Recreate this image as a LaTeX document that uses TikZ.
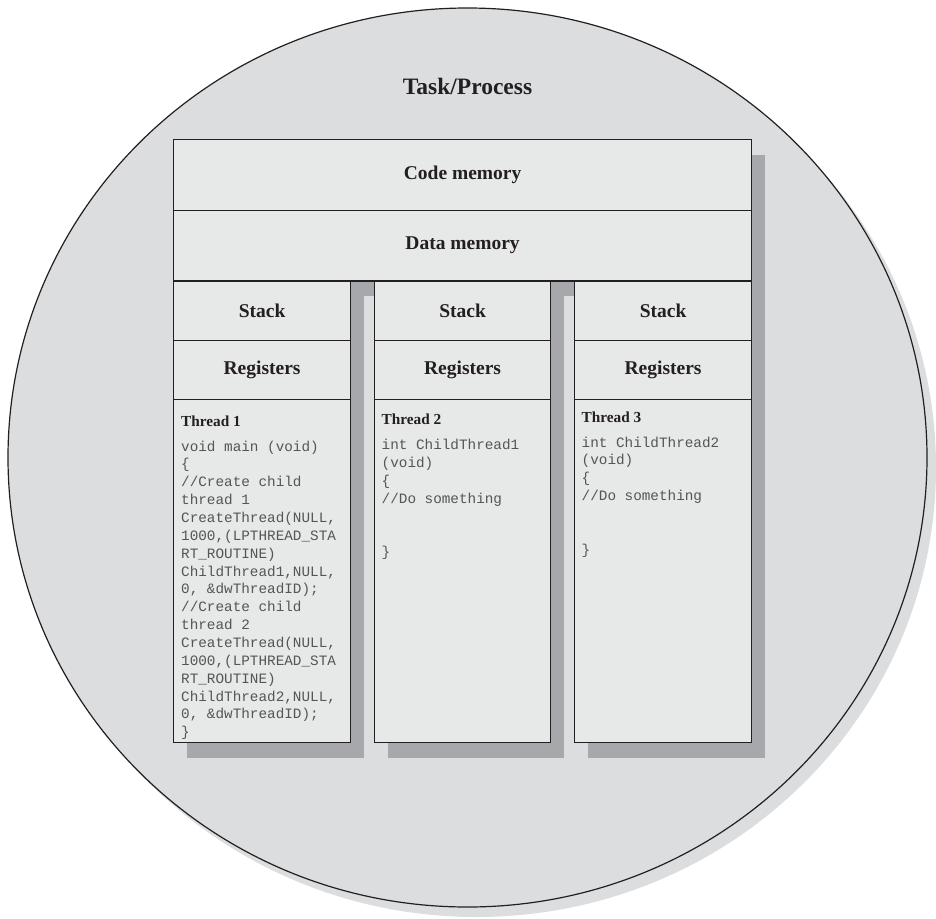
\documentclass[tikz,border=0pt]{standalone}
\usepackage{fontspec}
\setmainfont{Liberation Serif}
\setmonofont{Liberation Mono}
\definecolor{circfill}{HTML}{DCDDDF}
\definecolor{boxfill}{HTML}{E7E8E8}
\definecolor{shade}{HTML}{A7A8AB}
\definecolor{ink}{HTML}{231F20}
\definecolor{codeink}{HTML}{555555}
\begin{document}
\begin{tikzpicture}[x=1pt,y=-1pt,
  membox/.style={draw=ink, line width=1.2pt, fill=boxfill, inner sep=0pt, anchor=north west, text=ink,
    font=\fontsize{19.5}{22}\selectfont\bfseries},
  shadowfill/.style={fill=shade, draw=none},
  tlabel/.style={anchor=base west, inner sep=0pt, text=ink, font=\fontsize{15.3}{18}\selectfont\bfseries},
  codetext/.style={anchor=north west, inner sep=0pt, align=left, text=codeink,
    font=\ttfamily\fontsize{14.33}{17.86}\selectfont}]
\useasboundingbox (0,0) rectangle (936,918);
% process circle with its shadow
\fill[circfill] (476.5,467.5) ellipse [x radius=459.5pt, y radius=449.5pt];
\draw[fill=circfill, draw=ink, line width=1.2pt] (467.5,457.5) ellipse [x radius=459.5pt, y radius=449.5pt];
\node[text=ink, font=\fontsize{23.5}{28}\selectfont\bfseries] (title) at (467.5,86) {Task/Process};
% box shadows
\fill[shadowfill] (187,155) rectangle (765,296.4);
\fill[shadowfill] (187,296) rectangle (364,757.8);
\fill[shadowfill] (388,296) rectangle (564,757.8);
\fill[shadowfill] (588,296) rectangle (765,757.8);
% shared memory
\node[membox, minimum width=578pt, minimum height=70.6pt] (code) at (173,139) {Code memory};
\node[membox, minimum width=578pt, minimum height=70.8pt] (data) at (173,209.6) {Data memory};
% thread columns
\node[membox, minimum width=177pt, minimum height=59.2pt] (s1) at (173,280.4) {Stack};
\node[membox, minimum width=176pt, minimum height=59.2pt] (s2) at (374,280.4) {Stack};
\node[membox, minimum width=177pt, minimum height=59.2pt] (s3) at (574,280.4) {Stack};
\node[membox, minimum width=177pt, minimum height=59.1pt] (r1) at (173,339.6) {Registers};
\node[membox, minimum width=176pt, minimum height=59.1pt] (r2) at (374,339.6) {Registers};
\node[membox, minimum width=177pt, minimum height=59.1pt] (r3) at (574,339.6) {Registers};
\node[membox, minimum width=177pt, minimum height=343.1pt] (t1) at (173,398.7) {};
\node[membox, minimum width=176pt, minimum height=343.1pt] (t2) at (374,398.7) {};
\node[membox, minimum width=177pt, minimum height=343.1pt] (t3) at (574,398.7) {};
% thread texts
\node[tlabel] (l1) at (181,426) {Thread 1};
\node[tlabel] (l2) at (381.5,424.5) {Thread 2};
\node[tlabel] (l3) at (581.5,422) {Thread 3};
\node[codetext] (c1) at (181,440.5) {void main (void)\\
\{\\
//Create child\\
thread 1\\
CreateThread(NULL,\\
1000,(LPTHREAD\_STA\\
RT\_ROUTINE)\\
ChildThread1,NULL,\\
0, \&dwThreadID);\\
//Create child\\
thread 2\\
CreateThread(NULL,\\
1000,(LPTHREAD\_STA\\
RT\_ROUTINE)\\
ChildThread2,NULL,\\
0, \&dwThreadID);\\
\}};
\node[codetext] (c2) at (381.5,439) {int ChildThread1\\
(void)\\
\{\\
//Do something\\
\\
\\
\}};
\node[codetext] (c3) at (581.5,436.5) {int ChildThread2\\
(void)\\
\{\\
//Do something\\
\\
\\
\}};
\end{tikzpicture}
\end{document}
